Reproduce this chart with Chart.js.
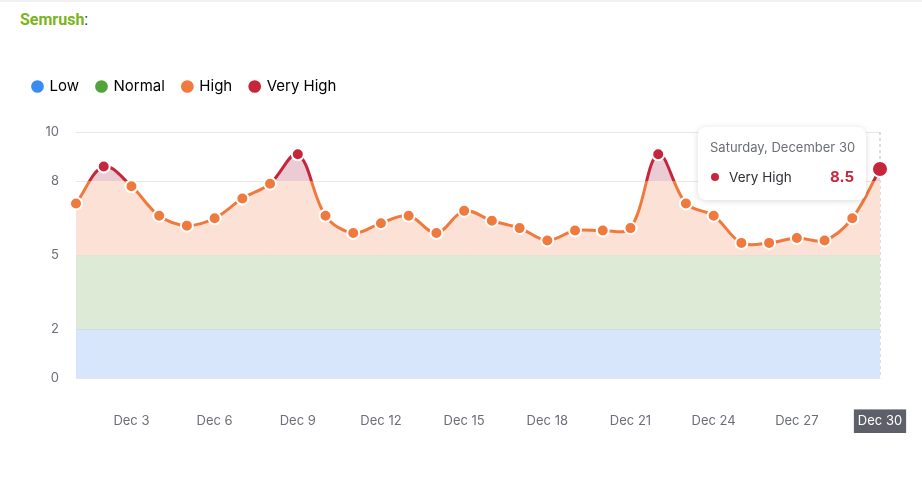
<!DOCTYPE html>
<html>
<head>
<meta charset="utf-8">
<script src="https://cdn.jsdelivr.net/npm/chart.js@4.4.1/dist/chart.umd.min.js"></script>
<style>
  body { margin: 0; background: #fff; font-family: Inter, "Noto Sans", sans-serif; }
  #wrap { position: relative; width: 922px; height: 477px; overflow: hidden; }
  #topline { position: absolute; left: 0; top: 0; width: 922px; height: 2px; background: #f1f1f1; }
  #title { position: absolute; left: 20px; top: 10px; font: bold 16px Roboto, sans-serif; color: #7ab51d; }
  #title span { color: #333; font-weight: normal; }
  #chart { position: absolute; left: 0; top: 0; }
  #tip {
    position: absolute; display: none; width: 168px; height: 73px; box-sizing: border-box;
    background: #fff; border-radius: 8px; box-shadow: 0 1px 6px rgba(0,0,0,0.15);
    padding: 12px 12px 0 12px; pointer-events: none;
  }
  #tip .t { font-size: 13px; color: #6b6e76; white-space: nowrap; }
  #tip .row { display: flex; align-items: center; margin-top: 12px; }
  #tip .dot { width: 8px; height: 8px; border-radius: 50%; margin: 0 10px 0 1px; }
  #tip .name { font-size: 13.5px; color: #2f3035; flex: 1; }
  #tip .val { font-size: 15px; font-weight: bold; }
</style>
</head>
<body>
<div id="wrap">
  <div id="topline"></div>
  <div id="title">Semrush<span>:</span></div>
  <canvas id="chart" width="922" height="477"></canvas>
  <div id="tip"></div>
</div>
<script>
  // Semrush sensor, December
  const days = ["Dec 1", "Dec 2", "Dec 3", "Dec 4", "Dec 5", "Dec 6", "Dec 7", "Dec 8", "Dec 9", "Dec 10",
    "Dec 11", "Dec 12", "Dec 13", "Dec 14", "Dec 15", "Dec 16", "Dec 17", "Dec 18", "Dec 19", "Dec 20",
    "Dec 21", "Dec 22", "Dec 23", "Dec 24", "Dec 25", "Dec 26", "Dec 27", "Dec 28", "Dec 29", "Dec 30"];
  const volatility = [7.1, 8.6, 7.8, 6.6, 6.2, 6.5, 7.3, 7.9, 9.1, 6.6,
    5.9, 6.3, 6.6, 5.9, 6.8, 6.4, 6.1, 5.6, 6.0, 6.0,
    6.1, 9.1, 7.1, 6.6, 5.5, 5.5, 5.7, 5.6, 6.5, 8.5];
  const yTicks = [0, 2, 5, 8, 10];
  const levelNames = ["Low", "Normal", "High", "Very High"];
  const levelTops = [2, 5, 8, 10];
  const levelColors = ["#3a8cf0", "#52a33b", "#f07a3e", "#c6263b"];
  const activeIndex = 29;

  const lowBand = days.map(() => levelTops[0]);
  const normalBand = days.map(() => levelTops[1]);

  function levelOf(v) {
    for (let i = 0; i < levelTops.length; i++) {
      if (v <= levelTops[i]) return i;
    }
    return levelTops.length - 1;
  }

  // hard colour switch at the "Very High" threshold
  function splitGradient(chart, above, below) {
    const { chartArea, scales } = chart;
    if (!chartArea) return below;
    const y = scales.y;
    const top = y.getPixelForValue(10);
    const bottom = y.getPixelForValue(0);
    const cut = (y.getPixelForValue(levelTops[2]) - top) / (bottom - top);
    const g = chart.ctx.createLinearGradient(0, top, 0, bottom);
    g.addColorStop(0, above);
    g.addColorStop(cut, above);
    g.addColorStop(cut, below);
    g.addColorStop(1, below);
    return g;
  }

  const tipEl = document.getElementById("tip");

  function externalTip(context) {
    const tt = context.tooltip;
    if (tt.opacity === 0 || !tt.dataPoints || !tt.dataPoints.length) {
      tipEl.style.display = "none";
      return;
    }
    const dp = tt.dataPoints[0];
    const day = dp.dataIndex + 1;
    const date = new Date(2023, 11, day).toLocaleDateString("en-US", { weekday: "long", month: "long", day: "numeric" });
    const lvl = levelOf(dp.raw);
    tipEl.innerHTML =
      '<div class="t">' + date + '</div>' +
      '<div class="row"><span class="dot" style="background:' + levelColors[lvl] + '"></span>' +
      '<span class="name">' + levelNames[lvl] + '</span>' +
      '<span class="val" style="color:' + levelColors[lvl] + '">' + dp.raw + '</span></div>';
    const area = context.chart.chartArea;
    tipEl.style.display = "block";
    tipEl.style.left = (tt.caretX - 14 - 168) + "px";
    tipEl.style.top = (area.top - 5) + "px";
  }

  // dashed hover line
  const hoverLine = {
    id: "hoverLine",
    beforeDatasetsDraw(chart) {
      const active = chart.tooltip.getActiveElements();
      if (!active.length) return;
      const x = active[0].element.x;
      const { ctx, chartArea } = chart;
      ctx.save();
      ctx.strokeStyle = "#b8bcc4";
      ctx.lineWidth = 1;
      ctx.setLineDash([3, 3]);
      ctx.beginPath();
      ctx.moveTo(x, chartArea.top);
      ctx.lineTo(x, chartArea.bottom);
      ctx.stroke();
      ctx.restore();
    },
  };

  // extra room between legend and plot
  const legendGap = {
    id: "legendGap",
    beforeInit(chart) {
      const fit = chart.legend.fit;
      chart.legend.fit = function () {
        fit.bind(chart.legend)();
        this.height += 28;
      };
    },
  };

  const chart = new Chart(document.getElementById("chart"), {
    type: "line",
    data: {
      labels: days,
      datasets: [
        {
          label: "Volatility",
          data: volatility,
          borderWidth: 3,
          tension: 0.35,
          borderColor: (c) => splitGradient(c.chart, levelColors[3], levelColors[2]),
          backgroundColor: (c) => splitGradient(c.chart, "#ecccd4", "#fce1d6"),
          fill: { value: levelTops[1] },
          pointRadius: volatility.map((v, i) => (i === activeIndex ? 8 : 6)),
          pointHoverRadius: volatility.map((v, i) => (i === activeIndex ? 8 : 6)),
          pointBackgroundColor: volatility.map((v) => (v > levelTops[2] ? levelColors[3] : levelColors[2])),
          pointBorderColor: "#fff",
          pointBorderWidth: 2,
          pointHoverBorderWidth: 2,
        },
        {
          label: "Normal",
          data: normalBand,
          fill: { value: levelTops[0] },
          backgroundColor: "#ddebd6",
          borderColor: "#d3e2cd",
          borderWidth: 1,
          pointRadius: 0,
        },
        {
          label: "Low",
          data: lowBand,
          fill: "origin",
          backgroundColor: "#d7e6fa",
          borderColor: "#c8d7ec",
          borderWidth: 1,
          pointRadius: 0,
        },
      ],
    },
    options: {
      responsive: false,
      animation: false,
      events: [],
      layout: { padding: { left: 15, right: 42, top: 61, bottom: 21 } },
      plugins: {
        legend: {
          align: "start",
          labels: {
            usePointStyle: true,
            pointStyle: "circle",
            boxWidth: 9,
            boxHeight: 9,
            padding: 18,
            color: "#333",
            font: { family: "Inter", size: 15 },
            generateLabels: () =>
              levelNames.map((name, i) => ({
                text: name,
                fillStyle: levelColors[i],
                strokeStyle: levelColors[i],
                lineWidth: 0,
                pointStyle: "circle",
                hidden: false,
                datasetIndex: 0,
              })),
          },
        },
        tooltip: { enabled: false, external: externalTip, mode: "index", intersect: false },
      },
      scales: {
        x: {
          grid: { display: false },
          border: { display: false },
          afterFit: (s) => {
            s.paddingRight = 0;
            s.paddingLeft = 0;
          },
          ticks: {
            autoSkip: false,
            maxRotation: 0,
            padding: 27,
            font: { family: "Inter", size: 13 },
            color: (c) => (c.index === activeIndex ? "#ffffff" : "#6b6e76"),
            showLabelBackdrop: (c) => c.index === activeIndex,
            backdropColor: "#5d6068",
            backdropPadding: { x: 4, y: 4 },
            callback: function (value, index) {
              return (index + 1) % 3 === 0 ? days[index] : "";
            },
          },
        },
        y: {
          min: 0,
          max: 10,
          afterBuildTicks: (s) => {
            s.ticks = yTicks.map((v) => ({ value: v }));
          },
          afterFit: (s) => {
            s.width = 61;
          },
          grid: { color: "#e6e8ec", drawTicks: false },
          border: { display: false },
          ticks: {
            padding: 17,
            font: { family: "Inter", size: 13 },
            color: "#6b6e76",
          },
        },
      },
    },
    plugins: [hoverLine, legendGap],
  });

  const pt = chart.getDatasetMeta(0).data[activeIndex];
  chart.tooltip.setActiveElements([{ datasetIndex: 0, index: activeIndex }], { x: pt.x, y: pt.y });
  chart.update();
</script>
</body>
</html>
